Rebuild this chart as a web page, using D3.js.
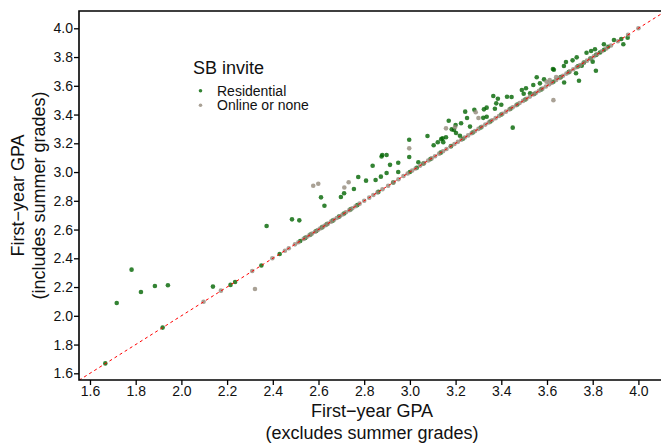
<!DOCTYPE html>
<html>
<head>
<meta charset="utf-8">
<script src="https://cdn.jsdelivr.net/npm/d3@7"></script>
<style>
  body { margin: 0; background: #fff; }
  text { font-family: "Liberation Sans", Arial, sans-serif; fill: #111; }
</style>
</head>
<body>
<svg id="chart" width="661" height="443"></svg>
<script>
// first-year GPA: [excludes summer, includes summer]
const residential = [
  [1.667,1.669],[1.717,2.089],[1.782,2.321],[1.823,2.166],[1.884,2.207],[1.941,2.212],
  [1.918,1.918],[2.138,2.203],[2.215,2.215],[2.235,2.235],[2.350,2.350],[2.373,2.625],
  [2.430,2.430],[2.484,2.671],[2.516,2.664],[2.520,2.520],[2.542,2.542],[2.565,2.565],
  [2.590,2.590],[2.611,2.824],[2.615,2.615],[2.626,2.766],[2.636,2.636],[2.662,2.662],
  [2.690,2.690],[2.698,2.826],[2.712,2.852],[2.712,2.712],[2.740,2.740],[2.755,2.882],
  [2.770,2.770],[2.774,2.966],[2.808,2.940],[2.837,3.044],[2.850,2.945],[2.862,2.862],
  [2.873,2.968],[2.876,3.108],[2.879,3.119],[2.898,3.119],[2.898,2.993],[2.913,3.050],
  [2.927,2.927],[2.949,3.065],[2.949,3.000],[2.997,3.225],[2.997,3.105],[3.000,3.000],
  [3.030,3.030],[3.037,3.068],[3.059,3.059],[3.077,3.251],[3.090,3.090],[3.104,3.186],
  [3.122,3.207],[3.135,3.135],[3.137,3.229],[3.143,3.235],[3.146,3.208],[3.158,3.242],
  [3.170,3.357],[3.180,3.180],[3.183,3.297],[3.193,3.293],[3.200,3.327],[3.202,3.272],
  [3.219,3.253],[3.224,3.339],[3.232,3.232],[3.242,3.420],[3.250,3.376],[3.263,3.316],
  [3.275,3.275],[3.282,3.433],[3.310,3.310],[3.321,3.377],[3.324,3.436],[3.336,3.448],
  [3.336,3.385],[3.352,3.352],[3.365,3.529],[3.372,3.440],[3.378,3.478],[3.385,3.510],
  [3.400,3.468],[3.400,3.400],[3.425,3.524],[3.440,3.440],[3.445,3.522],[3.450,3.309],
  [3.470,3.470],[3.490,3.571],[3.498,3.545],[3.505,3.505],[3.508,3.583],[3.526,3.548],
  [3.540,3.606],[3.545,3.545],[3.555,3.659],[3.569,3.617],[3.575,3.575],[3.587,3.645],
  [3.626,3.717],[3.628,3.628],[3.630,3.712],[3.660,3.660],[3.674,3.738],[3.675,3.623],
  [3.683,3.766],[3.695,3.695],[3.712,3.777],[3.727,3.687],[3.730,3.798],[3.735,3.735],
  [3.740,3.635],[3.752,3.740],[3.762,3.762],[3.773,3.830],[3.790,3.790],[3.793,3.842],
  [3.800,3.768],[3.810,3.854],[3.814,3.705],[3.815,3.815],[3.832,3.832],[3.849,3.889],
  [3.850,3.850],[3.868,3.872],[3.893,3.919],[3.925,3.925],[3.934,3.889],[3.953,3.935]
];

const onlineOrNone = [
  [2.097,2.098],[2.173,2.175],[2.310,2.312],[2.322,2.186],[2.398,2.400],[2.453,2.453],
  [2.470,2.470],[2.497,2.497],[2.512,2.512],[2.535,2.535],[2.548,2.548],[2.560,2.560],
  [2.572,2.572],[2.577,2.905],[2.585,2.585],[2.597,2.597],[2.599,2.919],[2.607,2.607],
  [2.620,2.620],[2.630,2.630],[2.641,2.641],[2.655,2.655],[2.668,2.668],[2.680,2.680],
  [2.693,2.693],[2.705,2.705],[2.713,2.892],[2.720,2.720],[2.732,2.929],[2.735,2.735],
  [2.748,2.748],[2.762,2.762],[2.780,2.780],[2.800,2.800],[2.822,2.822],[2.840,2.840],
  [2.858,2.858],[2.880,2.880],[2.905,2.905],[2.928,2.928],[2.950,2.950],[2.972,2.972],
  [2.990,2.990],[2.997,3.165],[3.010,3.010],[3.025,3.025],[3.045,3.045],[3.062,3.062],
  [3.080,3.080],[3.095,3.095],[3.110,3.110],[3.128,3.128],[3.145,3.145],[3.158,3.304],
  [3.160,3.160],[3.178,3.178],[3.195,3.195],[3.197,3.312],[3.210,3.210],[3.225,3.225],
  [3.240,3.240],[3.255,3.255],[3.270,3.270],[3.285,3.285],[3.288,3.416],[3.300,3.376],
  [3.300,3.300],[3.315,3.315],[3.330,3.330],[3.345,3.345],[3.360,3.360],[3.375,3.375],
  [3.390,3.390],[3.405,3.405],[3.420,3.420],[3.435,3.435],[3.450,3.450],[3.465,3.465],
  [3.480,3.480],[3.495,3.495],[3.510,3.510],[3.525,3.525],[3.540,3.540],[3.552,3.552],
  [3.565,3.565],[3.580,3.580],[3.595,3.595],[3.598,3.628],[3.610,3.610],[3.612,3.640],
  [3.622,3.622],[3.628,3.500],[3.640,3.660],[3.640,3.640],[3.655,3.655],[3.670,3.670],
  [3.685,3.685],[3.700,3.700],[3.715,3.715],[3.730,3.730],[3.745,3.745],[3.760,3.760],
  [3.775,3.775],[3.790,3.790],[3.805,3.805],[3.820,3.820],[3.840,3.840],[3.860,3.860],
  [3.880,3.880],[3.910,3.910],[3.955,3.955],[4.000,4.000]
];

const xTicks = [1.6, 1.8, 2.0, 2.2, 2.4, 2.6, 2.8, 3.0, 3.2, 3.4, 3.6, 3.8, 4.0];
const yTicks = [1.6, 1.8, 2.0, 2.2, 2.4, 2.6, 2.8, 3.0, 3.2, 3.4, 3.6, 3.8, 4.0];
const legendLabels = ["Residential", "Online or none"];

const green = "#006400", grey = "#948a7a";
const plot = { left: 79, right: 665, top: 11, bottom: 380 };

const svg = d3.select("#chart");

const x = d3.scaleLinear().domain([1.5519, 4.1164]).range([plot.left, plot.right]);
const y = d3.scaleLinear().domain([1.5534, 4.1203]).range([plot.bottom, plot.top]);

svg.append("clipPath").attr("id", "clip")
  .append("rect")
  .attr("x", plot.left).attr("y", plot.top)
  .attr("width", plot.right - plot.left).attr("height", plot.bottom - plot.top);

const marks = svg.append("g").attr("clip-path", "url(#clip)");

marks.selectAll("circle.res")
  .data(residential)
  .join("circle")
  .attr("class", "res")
  .attr("cx", d => x(d[0]))
  .attr("cy", d => y(d[1]))
  .attr("r", 2.3)
  .attr("fill", green)
  .attr("fill-opacity", 0.8);

marks.selectAll("circle.onl")
  .data(onlineOrNone)
  .join("circle")
  .attr("class", "onl")
  .attr("cx", d => x(d[0]))
  .attr("cy", d => y(d[1]))
  .attr("r", 2.3)
  .attr("fill", grey)
  .attr("fill-opacity", 0.8);

// y = x reference line
const lo = x.domain()[0], hi = y.domain()[1];
marks.append("line")
  .attr("x1", x(lo)).attr("y1", y(lo))
  .attr("x2", x(hi)).attr("y2", y(hi))
  .attr("stroke", "#ff0000")
  .attr("stroke-width", 1)
  .attr("stroke-dasharray", "3,3");

// axes
const xAxis = d3.axisBottom(x).tickValues(xTicks).tickFormat(d3.format(".1f")).tickSize(5).tickSizeOuter(0);
const yAxis = d3.axisLeft(y).tickValues(yTicks).tickFormat(d3.format(".1f")).tickSize(5).tickSizeOuter(0);

const gx = svg.append("g").attr("transform", `translate(0,${plot.bottom})`).call(xAxis);
const gy = svg.append("g").attr("transform", `translate(${plot.left},0)`).call(yAxis);

[gx, gy].forEach(g => {
  g.select(".domain").remove();
  g.selectAll(".tick line").attr("stroke", "#000").attr("stroke-width", 1.3);
  g.selectAll(".tick text").attr("font-size", 14).style("fill", "#111");
});
gx.selectAll(".tick text").attr("dy", "0.71em").attr("y", 6);
gy.selectAll(".tick text").attr("x", -6);

// frame: left, top, bottom
svg.append("path")
  .attr("d", `M${plot.right},${plot.top}H${plot.left}V${plot.bottom}H${plot.right}`)
  .attr("fill", "none")
  .attr("stroke", "#000")
  .attr("stroke-width", 1.6);

// axis titles
const cx = (plot.left + plot.right) / 2, cy = (plot.top + plot.bottom) / 2;
svg.append("text").attr("x", cx).attr("y", 417).attr("text-anchor", "middle")
  .attr("font-size", 18).text("First\u2212year GPA");
svg.append("text").attr("x", cx).attr("y", 439).attr("text-anchor", "middle")
  .attr("font-size", 18).text("(excludes summer grades)");
svg.append("text").attr("transform", `translate(24,${cy}) rotate(-90)`).attr("text-anchor", "middle")
  .attr("font-size", 18).text("First\u2212year GPA");
svg.append("text").attr("transform", `translate(45,${cy}) rotate(-90)`).attr("text-anchor", "middle")
  .attr("font-size", 18).text("(includes summer grades)");

// legend
const legend = svg.append("g").attr("transform", "translate(193,0)");
legend.append("text").attr("x", 0).attr("y", 74).attr("font-size", 18).text("SB invite");
legend.selectAll("circle")
  .data(legendLabels)
  .join("circle")
  .attr("cx", 7.5)
  .attr("cy", (d, i) => 90.7 + i * 14.5)
  .attr("r", 1.8)
  .attr("fill", (d, i) => i === 0 ? green : grey)
  .attr("fill-opacity", 0.8);
legend.selectAll("text.item")
  .data(legendLabels)
  .join("text")
  .attr("class", "item")
  .attr("x", 24)
  .attr("y", (d, i) => 90.7 + i * 14.5)
  .attr("dy", "0.35em")
  .attr("font-size", 14)
  .text(d => d);
</script>
</body>
</html>
